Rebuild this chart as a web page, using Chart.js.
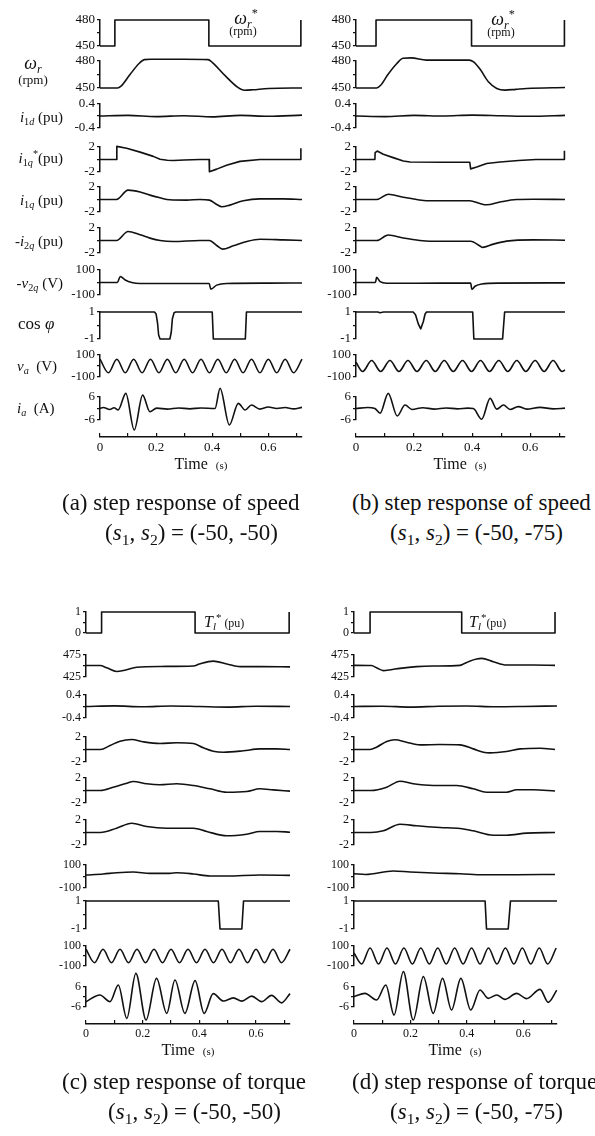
<!DOCTYPE html>
<html><head><meta charset="utf-8">
<script src="https://cdn.jsdelivr.net/npm/chart.js@4.4.0/dist/chart.umd.min.js"></script>
<style>
html,body{margin:0;padding:0;background:#fff;}
#fig{position:relative;width:595px;height:1136px;overflow:hidden;background:#fff;font-family:'Liberation Serif','DejaVu Serif',serif;color:#111;}
#fig canvas{position:absolute;}
.t{position:absolute;white-space:nowrap;line-height:1;color:#111;}
.sb{font-size:.68em;position:relative;top:.3em;}
.sp{font-size:.68em;position:relative;top:-.55em;}
</style></head><body><div id="fig"></div>
<script>
// ---------------- DATA ----------------
const timeMax = 0.72;
const xTickValues = [0, 0.1, 0.2, 0.3, 0.4, 0.5, 0.6, 0.7];
const xTickLabels = ['0', '', '0.2', '', '0.4', '', '0.6', ''];

const speedRanges = [[450,480],[450,480],[-0.4,0.4],[-2,2],[-2,2],[-2,2],[-100,100],[-1,1],[-100,100],[-6,6]];
const speedTickLabels = [['450','480'],['450','480'],['-0.4','0.4'],['-2','2'],['-2','2'],['-2','2'],['-100','100'],['-1','1'],['-100','100'],['-6','6']];
const torqueRanges = [[0,1],[425,475],[-0.4,0.4],[-2,2],[-2,2],[-2,2],[-100,100],[-1,1],[-100,100],[-6,6]];
const torqueTickLabels = [['0','1'],['425','475'],['-0.4','0.4'],['-2','2'],['-2','2'],['-2','2'],['-100','100'],['-1','1'],['-100','100'],['-6','6']];

// panel (a): speed step, (s1,s2)=(-50,-50)
const a_wRef = [[0,450],[0.053,450],[0.053,480],[0.388,480],[0.388,450],[0.716,450],[0.716,480]];
const a_wr = [[0,450],[0.062,450],[0.075,452],[0.107,465],[0.14,477.5],[0.158,481.5],[0.18,482],[0.3,482],[0.385,481.5],[0.40,478.5],[0.445,464],[0.49,451],[0.515,447.5],[0.545,448],[0.6,449.5],[0.72,450]];
const a_i1d = [[0,0],[0.1,0.02],[0.2,-0.02],[0.3,0.01],[0.4,-0.03],[0.5,0.02],[0.6,-0.01],[0.72,0.03]];
const a_i1qRef = [[0,0],[0.059,0],[0.06,2.1],[0.095,1.8],[0.143,1.18],[0.19,0.5],[0.214,0.05],[0.24,-0.12],[0.261,-0.15],[0.3,-0.08],[0.356,0],[0.389,0],[0.39,-1.95],[0.416,-1.54],[0.451,-0.92],[0.499,-0.3],[0.57,0],[0.715,0],[0.716,1.8]];
const a_i1q = [[0,0],[0.059,0],[0.1,1.5],[0.143,1.2],[0.178,0.7],[0.214,0.27],[0.249,-0.05],[0.309,-0.1],[0.356,0],[0.39,-0.1],[0.416,-0.8],[0.434,-1.17],[0.463,-0.9],[0.511,-0.2],[0.57,0.1],[0.653,0.1],[0.72,0]];
const a_i2q = [[0,0],[0.059,0],[0.1,1.44],[0.143,0.91],[0.178,0.38],[0.214,0],[0.261,-0.16],[0.356,0],[0.39,0],[0.416,-0.8],[0.437,-1.38],[0.475,-0.85],[0.523,-0.16],[0.57,0.2],[0.653,0.1],[0.72,0]];
const a_v2q = [[0,0],[0.062,0],[0.072,48],[0.09,20],[0.113,0],[0.143,-8],[0.356,-8],[0.389,-8],[0.395,-53],[0.416,-21],[0.451,-8],[0.6,-5],[0.72,-4]];
const a_cos = [[0,1],[0.194,1],[0.2,0.85],[0.205,0.2],[0.209,-0.7],[0.214,-1],[0.249,-1],[0.254,-0.5],[0.258,0.5],[0.264,0.95],[0.27,1],[0.4,1],[0.404,-1],[0.518,-1],[0.522,1],[0.72,1]];
const a_va = [[0,62],[0.03,-62],[0.06,62],[0.09,-62],[0.12,62],[0.15,-62],[0.18,62],[0.21,-62],[0.24,62],[0.27,-62],[0.3,62],[0.33,-62],[0.36,62],[0.39,-62],[0.42,62],[0.45,-62],[0.48,62],[0.51,-62],[0.54,62],[0.57,-62],[0.6,62],[0.63,-62],[0.66,62],[0.69,-62],[0.72,62]];
const a_ia = [[0,0],[0.012,0.5],[0.035,-0.5],[0.05,0.4],[0.065,-0.7],[0.092,7.9],[0.122,-11.2],[0.152,7.0],[0.178,-1.7],[0.202,0.2],[0.24,-0.3],[0.28,0.3],[0.32,-0.2],[0.36,0.3],[0.41,0],[0.428,10.5],[0.461,-8.6],[0.493,2.7],[0.517,-0.8],[0.54,1.8],[0.57,-0.3],[0.6,0.8],[0.63,0],[0.66,0.5],[0.69,-0.2],[0.72,0.6]];

// panel (b): speed step, (s1,s2)=(-50,-75)
const b_wRef = [[0,450],[0.069,450],[0.069,480],[0.398,480],[0.398,450],[0.718,450],[0.718,480]];
const b_wr = [[0,450],[0.071,450],[0.085,453],[0.11,465],[0.14,477],[0.162,483],[0.19,483.5],[0.243,481],[0.39,481],[0.405,479],[0.427,471],[0.456,457],[0.485,449.5],[0.513,447.6],[0.55,448.5],[0.588,449.5],[0.72,450.5]];
const b_i1d = [[0,0],[0.1,-0.02],[0.2,0.02],[0.3,0],[0.4,0.03],[0.5,0.01],[0.6,-0.01],[0.72,0.02]];
const b_i1qRef = [[0,0],[0.065,0],[0.066,1.1],[0.073,1.35],[0.094,0.85],[0.128,0.3],[0.163,-0.25],[0.186,-0.4],[0.3,-0.45],[0.392,-0.45],[0.395,-1.5],[0.416,-1.2],[0.45,-0.65],[0.496,-0.4],[0.56,-0.15],[0.62,0],[0.717,0],[0.718,1.4]];
const b_i1q = [[0,0],[0.071,0],[0.111,0.85],[0.163,0.35],[0.209,0],[0.243,-0.2],[0.392,-0.2],[0.427,-0.65],[0.45,-0.85],[0.496,-0.4],[0.553,0],[0.61,0.05],[0.72,0]];
const b_i2q = [[0,0],[0.071,0],[0.111,0.87],[0.163,0.4],[0.22,0],[0.255,-0.12],[0.395,-0.12],[0.427,-0.87],[0.436,-1.1],[0.473,-0.58],[0.519,-0.1],[0.61,0.1],[0.72,0.05]];
const b_v2q = [[0,0],[0.067,0],[0.071,42],[0.083,7],[0.106,-6],[0.3,-5],[0.395,-5],[0.399,-54],[0.41,-30],[0.433,-12],[0.496,-5],[0.72,-3]];
const b_cos = [[0,1],[0.075,1],[0.083,0.95],[0.095,1],[0.197,1],[0.205,0.8],[0.215,0.1],[0.223,-0.25],[0.232,0.3],[0.238,0.85],[0.243,1],[0.402,1],[0.406,-1],[0.505,-1],[0.512,1],[0.72,1]];
const b_va = [[0,34],[0.023,-50],[0.054,50],[0.085,-50],[0.117,50],[0.148,-50],[0.179,50],[0.21,-50],[0.242,50],[0.273,-50],[0.304,50],[0.335,-50],[0.367,50],[0.398,-50],[0.429,50],[0.46,-50],[0.492,50],[0.523,-50],[0.554,50],[0.585,-50],[0.617,50],[0.648,-50],[0.679,50],[0.71,-50],[0.72,-35]];
const b_ia = [[0,0],[0.04,0.5],[0.065,0],[0.083,-2.5],[0.111,7.9],[0.142,-3.9],[0.169,1.8],[0.193,-0.5],[0.23,0.4],[0.27,-0.3],[0.31,0.3],[0.35,-0.2],[0.385,0.2],[0.404,0],[0.433,-5.6],[0.462,5.3],[0.485,-0.3],[0.508,1.8],[0.531,-0.5],[0.559,1],[0.588,-0.3],[0.634,0.6],[0.68,-0.2],[0.72,0.2]];

// panel (c): torque step, (s1,s2)=(-50,-50)
const c_tRef = [[0,0],[0.055,0],[0.055,1],[0.385,1],[0.385,0],[0.717,0],[0.717,1]];
const c_wr = [[0,451],[0.05,451],[0.073,446],[0.108,437.5],[0.14,441],[0.179,447],[0.264,449],[0.379,450],[0.40,454.5],[0.449,461],[0.497,454.5],[0.544,448.5],[0.615,448.5],[0.72,448]];
const c_i1d = [[0,0],[0.1,0.02],[0.2,-0.01],[0.3,0.02],[0.4,0],[0.5,-0.02],[0.6,0.01],[0.72,0]];
const c_i1qRef = [[0,0],[0.051,0],[0.085,0.64],[0.12,1.33],[0.161,1.6],[0.202,1.23],[0.261,0.96],[0.32,1.07],[0.379,0.96],[0.414,0.27],[0.449,-0.27],[0.485,-0.43],[0.555,-0.21],[0.614,0.1],[0.673,0.1],[0.72,0]];
const c_i1q = [[0,0],[0.051,0],[0.096,0.53],[0.144,1.17],[0.167,1.44],[0.214,1.07],[0.261,0.91],[0.32,1.07],[0.379,0.8],[0.438,0.27],[0.497,-0.27],[0.567,-0.16],[0.614,0.27],[0.661,0.1],[0.72,-0.1]];
const c_i2q = [[0,0],[0.051,0],[0.108,0.69],[0.161,1.49],[0.214,0.96],[0.285,0.69],[0.379,0.69],[0.426,0.16],[0.497,-0.53],[0.567,-0.27],[0.614,0.16],[0.673,0.16],[0.72,0.05]];
const c_v2q = [[0,13],[0.061,22],[0.108,33],[0.167,39],[0.226,27],[0.296,27],[0.32,33],[0.379,22],[0.438,4],[0.497,4],[0.614,13],[0.72,10]];
const c_cos = [[0,1],[0.467,1],[0.473,-1],[0.55,-1],[0.556,1],[0.72,1]];
const c_va = [[0,67],[0.03,-67],[0.06,67],[0.09,-67],[0.12,67],[0.15,-67],[0.18,67],[0.21,-67],[0.24,67],[0.27,-67],[0.3,67],[0.33,-67],[0.36,67],[0.39,-67],[0.42,67],[0.45,-67],[0.48,67],[0.51,-67],[0.54,67],[0.57,-67],[0.6,67],[0.63,-67],[0.66,67],[0.69,-67],[0.72,67]];
const c_ia = [[0,-2.8],[0.049,1.2],[0.085,-2.8],[0.114,7.2],[0.144,-12.8],[0.176,14.2],[0.212,-13.8],[0.249,11.2],[0.285,-9.8],[0.314,10.2],[0.349,-9.8],[0.385,9.8],[0.417,-9.8],[0.449,2],[0.485,-2.4],[0.52,-0.5],[0.55,-2.5],[0.585,0.5],[0.62,-2.8],[0.655,1],[0.69,-3.5],[0.72,2]];

// panel (d): torque step, (s1,s2)=(-50,-75)
const d_tRef = [[0,0],[0.057,0],[0.057,1],[0.382,1],[0.382,0],[0.713,0],[0.713,1]];
const d_wr = [[0,451.5],[0.062,451],[0.08,446],[0.104,439.5],[0.13,441.5],[0.163,444.7],[0.222,448.5],[0.281,450],[0.376,451.5],[0.388,454.5],[0.41,461],[0.435,466],[0.453,467.4],[0.494,459.8],[0.541,452.3],[0.636,452.3],[0.713,451.5]];
const d_i1d = [[0,0],[0.1,0.01],[0.2,-0.02],[0.3,0.01],[0.4,0.02],[0.5,-0.01],[0.6,0],[0.72,0.02]];
const d_i1qRef = [[0,0],[0.057,0],[0.08,0.37],[0.116,1.28],[0.145,1.55],[0.186,1.17],[0.234,0.74],[0.305,0.8],[0.376,0.74],[0.423,0.1],[0.459,-0.43],[0.482,-0.54],[0.541,-0.32],[0.589,0.1],[0.66,0.21],[0.713,0]];
const d_i1q = [[0,0],[0.06,0],[0.116,0.53],[0.163,1.49],[0.21,1.07],[0.281,0.8],[0.364,0.8],[0.423,0.27],[0.47,-0.27],[0.541,-0.27],[0.577,0.11],[0.636,0.11],[0.713,-0.08]];
const d_i2q = [[0,0],[0.06,0],[0.104,0.27],[0.163,1.33],[0.222,1.07],[0.305,0.8],[0.376,0.64],[0.423,0.27],[0.494,-0.43],[0.541,-0.43],[0.612,-0.1],[0.713,0]];
const d_v2q = [[0,24],[0.041,18],[0.139,48],[0.199,39],[0.281,30],[0.376,24],[0.459,15],[0.577,15],[0.713,18]];
const d_cos = [[0,1],[0.465,1],[0.47,-1],[0.547,-1],[0.555,1],[0.72,1]];
const d_va = [[0,30],[0.027,-80],[0.057,80],[0.087,-80],[0.117,80],[0.147,-80],[0.177,80],[0.207,-80],[0.237,80],[0.267,-80],[0.297,80],[0.327,-80],[0.357,80],[0.387,-80],[0.417,80],[0.447,-80],[0.477,80],[0.507,-80],[0.537,80],[0.567,-80],[0.597,80],[0.627,-80],[0.657,80],[0.687,-80],[0.717,80]];
const d_ia = [[0,0.2],[0.039,2.2],[0.08,-1.8],[0.113,7.2],[0.142,-10.8],[0.175,15.2],[0.21,-13.8],[0.246,12.2],[0.281,-9.8],[0.314,11.2],[0.346,-7.8],[0.379,11.2],[0.414,-7.8],[0.447,4.2],[0.476,-0.8],[0.506,1.2],[0.535,-1.4],[0.577,2.2],[0.612,-1],[0.66,4.6],[0.689,-3.2],[0.719,4]];

// ---------------- LAYOUT ----------------
const fig = document.getElementById('fig');
const YW = 40, RP = 2, PAD = 20;
const topRowTops = [20,61,104,147,187,228,270,312,355,397];
const topRowHs   = [26,27,24,25,25,25,25,27,22,23];
const botRowTops = [612,655,695,737,778,820,865,901,946,987];
const botRowHs   = [21,22,23,25,25,25,23,28,20,20];

const panels = [
  {x0:100, x1:302, tops:topRowTops, hs:topRowHs, axisY:437, tick:13, ranges:speedRanges, labels:speedTickLabels, straight:[0,3,7],
   series:[a_wRef,a_wr,a_i1d,a_i1qRef,a_i1q,a_i2q,a_v2q,a_cos,a_va,a_ia]},
  {x0:356, x1:565, tops:topRowTops, hs:topRowHs, axisY:437, tick:13, ranges:speedRanges, labels:speedTickLabels, straight:[0,3,7],
   series:[b_wRef,b_wr,b_i1d,b_i1qRef,b_i1q,b_i2q,b_v2q,b_cos,b_va,b_ia]},
  {x0:86, x1:290, tops:botRowTops, hs:botRowHs, axisY:1024, tick:12, ranges:torqueRanges, labels:torqueTickLabels, straight:[0,7],
   series:[c_tRef,c_wr,c_i1d,c_i1qRef,c_i1q,c_i2q,c_v2q,c_cos,c_va,c_ia]},
  {x0:354, x1:557, tops:botRowTops, hs:botRowHs, axisY:1024, tick:12, ranges:torqueRanges, labels:torqueTickLabels, straight:[0,7],
   series:[d_tRef,d_wr,d_i1d,d_i1qRef,d_i1q,d_i2q,d_v2q,d_cos,d_va,d_ia]}
];

const INK = '#111';
function mkCanvas(left, top, w, h) {
  const c = document.createElement('canvas');
  c.width = w; c.height = h;
  c.style.left = left + 'px'; c.style.top = top + 'px';
  c.style.width = w + 'px'; c.style.height = h + 'px';
  fig.appendChild(c);
  return c;
}

function makeRow(p, r) {
  const range = p.ranges[r], labels = p.labels[r];
  const straight = p.straight.indexOf(r) >= 0;
  const w = YW + (p.x1 - p.x0) + RP;
  const c = mkCanvas(p.x0 - YW, p.tops[r] - PAD, w, p.hs[r] + 2 * PAD);
  new Chart(c, {
    type: 'line',
    data: { datasets: [{
      data: p.series[r].map(pt => ({ x: pt[0], y: pt[1] })),
      borderColor: INK, borderWidth: 1.6, pointRadius: 0, fill: false, clip: false,
      tension: 0, cubicInterpolationMode: straight ? 'default' : 'monotone', capBezierPoints: false,
      borderJoinStyle: 'round'
    }]},
    options: {
      responsive: false, animation: false, events: [], devicePixelRatio: 1,
      layout: { padding: { top: PAD, bottom: PAD, left: 0, right: RP } },
      plugins: { legend: { display: false }, tooltip: { enabled: false } },
      scales: {
        x: { type: 'linear', display: false, min: 0, max: timeMax },
        y: {
          type: 'linear', position: 'left', min: range[0], max: range[1],
          afterBuildTicks: s => { s.ticks = [{ value: range[0] }, { value: (range[0] + range[1]) / 2 }, { value: range[1] }]; },
          afterFit: s => { s.width = YW; },
          border: { display: true, color: INK, width: 1.5 },
          grid: { display: true, drawOnChartArea: false, drawTicks: true, tickLength: 3, color: INK, lineWidth: 1.3 },
          ticks: { autoSkip: false, padding: 2, color: INK, font: { family: 'Liberation Serif', size: p.tick },
                   callback: (v, i) => i === 0 ? labels[0] : (i === 2 ? labels[1] : '') }
        }
      }
    }
  });
}

function makeAxis(p) {
  const up = 4, H = 18;
  const w = YW + (p.x1 - p.x0) + RP;
  const c = mkCanvas(p.x0 - YW, p.axisY - up, w, up + H);
  new Chart(c, {
    type: 'line',
    data: { datasets: [] },
    options: {
      responsive: false, animation: false, events: [], devicePixelRatio: 1,
      layout: { padding: { top: 0, bottom: 0, left: 0, right: RP } },
      plugins: { legend: { display: false }, tooltip: { enabled: false } },
      scales: {
        x: {
          type: 'linear', position: 'bottom', min: 0, max: timeMax,
          afterBuildTicks: s => { s.ticks = xTickValues.map(v => ({ value: v })); },
          afterFit: s => { s.height = H; },
          border: { display: true, color: INK, width: 1.6 },
          grid: { display: true, drawOnChartArea: true, drawTicks: false, color: INK, lineWidth: 1.2 },
          ticks: { autoSkip: false, maxRotation: 0, padding: 3, color: INK, font: { family: 'Liberation Serif', size: p.tick },
                   callback: (v, i) => xTickLabels[i] }
        },
        y: { display: true, min: 0, max: 1, afterFit: s => { s.width = YW; },
             ticks: { display: false }, grid: { display: false }, border: { display: false } }
      }
    }
  });
}

panels.forEach(p => { for (let r = 0; r < 10; r++) makeRow(p, r); makeAxis(p); });

// ---------------- TEXT ----------------
function txt(html, x, cy, size, align, style) {
  const d = document.createElement('div');
  d.className = 't'; d.innerHTML = html;
  d.style.fontSize = size + 'px';
  d.style.left = x + 'px'; d.style.top = cy + 'px';
  const tx = align === 'c' ? '-50%' : (align === 'r' ? '-100%' : '0');
  d.style.transform = 'translate(' + tx + ',-50%)';
  if (style) d.style.cssText += style;
  fig.appendChild(d);
}
const sb = s => '<span class="sb">' + s + '</span>';
const sp = s => '<span class="sp">' + s + '</span>';

// row labels, panel (a)
txt('<i>ω</i>' + sb('<i>r</i>'), 33, 63, 18, 'c');
txt('(rpm)', 33, 79, 13, 'c');
txt('<i>i</i>' + sb('1<i>d</i>') + ' (pu)', 63, 117, 15, 'r');
txt('<i>i</i>' + sb('1<i>q</i>') + sp('*') + '(pu)', 63, 158, 15, 'r');
txt('<i>i</i>' + sb('1<i>q</i>') + ' (pu)', 63, 200, 15, 'r');
txt('-<i>i</i>' + sb('2<i>q</i>') + ' (pu)', 63, 241, 15, 'r');
txt('-<i>v</i>' + sb('2<i>q</i>') + ' (V)', 63, 283, 15, 'r');
txt('cos <i>φ</i>', 18, 323, 17, 'l');
txt('<i>v</i>' + sb('<i>a</i>') + '&nbsp; (V)', 17, 366, 15, 'l');
txt('<i>i</i>' + sb('<i>a</i>') + '&nbsp; (A)', 17, 408, 15, 'l');

// in-plot annotations
txt('<i>ω</i>' + sb('<i>r</i>') + sp('*'), 246, 18, 18, 'c');
txt('(rpm)', 243, 31, 12, 'c');
txt('<i>ω</i>' + sb('<i>r</i>') + sp('*'), 503, 19, 18, 'c');
txt('(rpm)', 501, 32, 12, 'c');
txt('<i>T</i>' + sb('<i>l</i>') + sp('*') + '<span style="font-size:12px"> (pu)</span>', 204, 622, 16, 'l');
txt('<i>T</i>' + sb('<i>l</i>') + sp('*') + '<span style="font-size:12px">(pu)</span>', 469, 622, 16, 'l');

// time axis titles
[[201, 464], [460, 464], [188, 1050], [455, 1050]].forEach(q =>
  txt('Time&nbsp; <span style="font-size:11px">(s)</span>', q[0], q[1], 16, 'c'));

// captions
const s12 = '(<i>s</i>' + sb('1') + ', <i>s</i>' + sb('2') + ') = ';
txt('(a) step response of speed', 62, 502, 23, 'l');
txt(s12 + '(-50, -50)', 105, 532, 23, 'l');
txt('(b) step response of speed', 352, 502, 23, 'l');
txt(s12 + '(-50, -75)', 390, 532, 23, 'l');
txt('(c) step response of torque', 62, 1081, 23, 'l');
txt(s12 + '(-50, -50)', 108, 1111, 23, 'l');
txt('(d) step response of torque', 352, 1081, 23, 'l');
txt(s12 + '(-50, -75)', 390, 1111, 23, 'l');
</script></body></html>
